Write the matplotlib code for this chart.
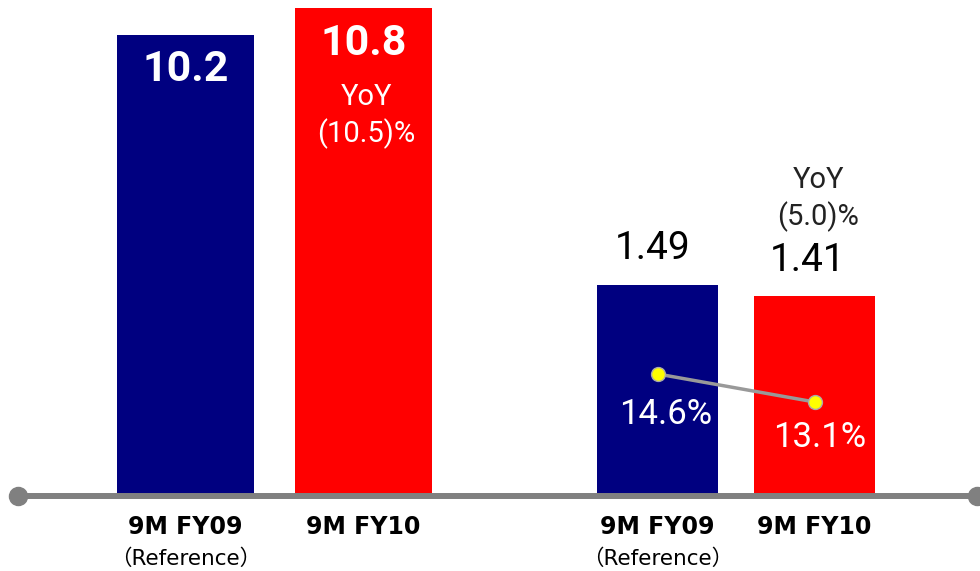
import matplotlib
matplotlib.use("Agg")
import matplotlib.pyplot as plt
from matplotlib.lines import Line2D

# Data
periods = ["9M FY09", "9M FY10"]
sublabels = ["（Reference）", ""]
sales = [10.2, 10.8]
profit = [1.49, 1.41]
margin = [14.6, 13.1]
sales_yoy = "YoY\n(10.5)%"
profit_yoy = "YoY\n(5.0)%"

colors = ["#000080", "#FF0000"]
PX = 0.72  # points per pixel at dpi 100

plt.rcParams["font.family"] = ["Roboto", "DejaVu Sans"]

fig = plt.figure(figsize=(9.8, 5.71), dpi=100)
bottom = 77 / 571
height = 494 / 571

# Left group: sales
ax1 = fig.add_axes([0, bottom, 0.5, height])
x = [0, 1]
ax1.bar(x, sales, width=0.77, color=colors)
ax1.set_xlim(-1.042, 1.711)
ax1.set_ylim(0, 10.98)
ax1.axis("off")

ax1.annotate(f"{sales[0]}", (x[0], sales[0]), xytext=(0, -34 * PX),
             textcoords="offset points", ha="center", va="center",
             color="white", fontsize=31, fontweight="bold")
ax1.annotate(f"{sales[1]}", (x[1], sales[1]), xytext=(0, -35 * PX),
             textcoords="offset points", ha="center", va="center",
             color="white", fontsize=31, fontweight="bold")
ax1.annotate(sales_yoy, (x[1], sales[1]), xytext=(2, -108 * PX),
             textcoords="offset points", ha="center", va="center",
             color="white", fontsize=21, linespacing=1.3)

# Right group: operating profit
ax2 = fig.add_axes([0.5, bottom, 0.5, height])
ax2.bar(x, profit, width=0.77, color=colors)
ax2.set_xlim(-1.067, 2.054)
ax2.set_ylim(0, 3.516)
ax2.axis("off")

ax2.annotate(f"{profit[0]:.2f}", (x[0], profit[0]), xytext=(-5 * PX, 36 * PX),
             textcoords="offset points", ha="center", va="center",
             color="black", fontsize=28)
ax2.annotate(f"{profit[1]:.2f}", (x[1], profit[1]), xytext=(-7 * PX, 35 * PX),
             textcoords="offset points", ha="center", va="center",
             color="black", fontsize=28)
ax2.annotate(profit_yoy, (x[1], profit[1]), xytext=(4 * PX, 97 * PX),
             textcoords="offset points", ha="center", va="center",
             color="#222222", fontsize=21, linespacing=1.3)

# Margin line on a twin axis
ax3 = ax2.twinx()
ax3.plot(x, margin, color="#999999", lw=2.5, marker="o", ms=10,
         mfc="#FFFF00", mec="#AAAAAA", mew=1, zorder=3)
ax3.set_ylim(8.17, 34.63)
ax3.axis("off")
for xi, m, dx, dy in zip(x, margin, [8, 5], [41, 36]):
    ax3.annotate(f"{m}%", (xi, m), xytext=(dx * PX, -dy * PX),
                 textcoords="offset points", ha="center", va="center",
                 color="white", fontsize=25)

# Category labels
for ax in (ax1, ax2):
    for xi, lab, sub in zip(x, periods, sublabels):
        ax.annotate(lab, (xi, 0), xycoords=("data", "axes fraction"),
                    xytext=(0, -33 * PX), textcoords="offset points",
                    ha="center", va="center", fontsize=17, fontweight="bold",
                    family=["DejaVu Sans", "Noto Sans CJK JP"])
        if sub:
            ax.annotate(sub, (xi, 0), xycoords=("data", "axes fraction"),
                        xytext=(0, -65 * PX), textcoords="offset points",
                        ha="center", va="center", fontsize=15.5,
                        family=["DejaVu Sans", "Noto Sans CJK JP"])

# Baseline with rounded end markers
fig.add_artist(Line2D([18 / 980, 977 / 980], [1 - 496 / 571, 1 - 496 / 571],
                      color="#808080", lw=4.3, marker="o", ms=13,
                      transform=fig.transFigure))

fig.savefig("out.png", dpi=100)
